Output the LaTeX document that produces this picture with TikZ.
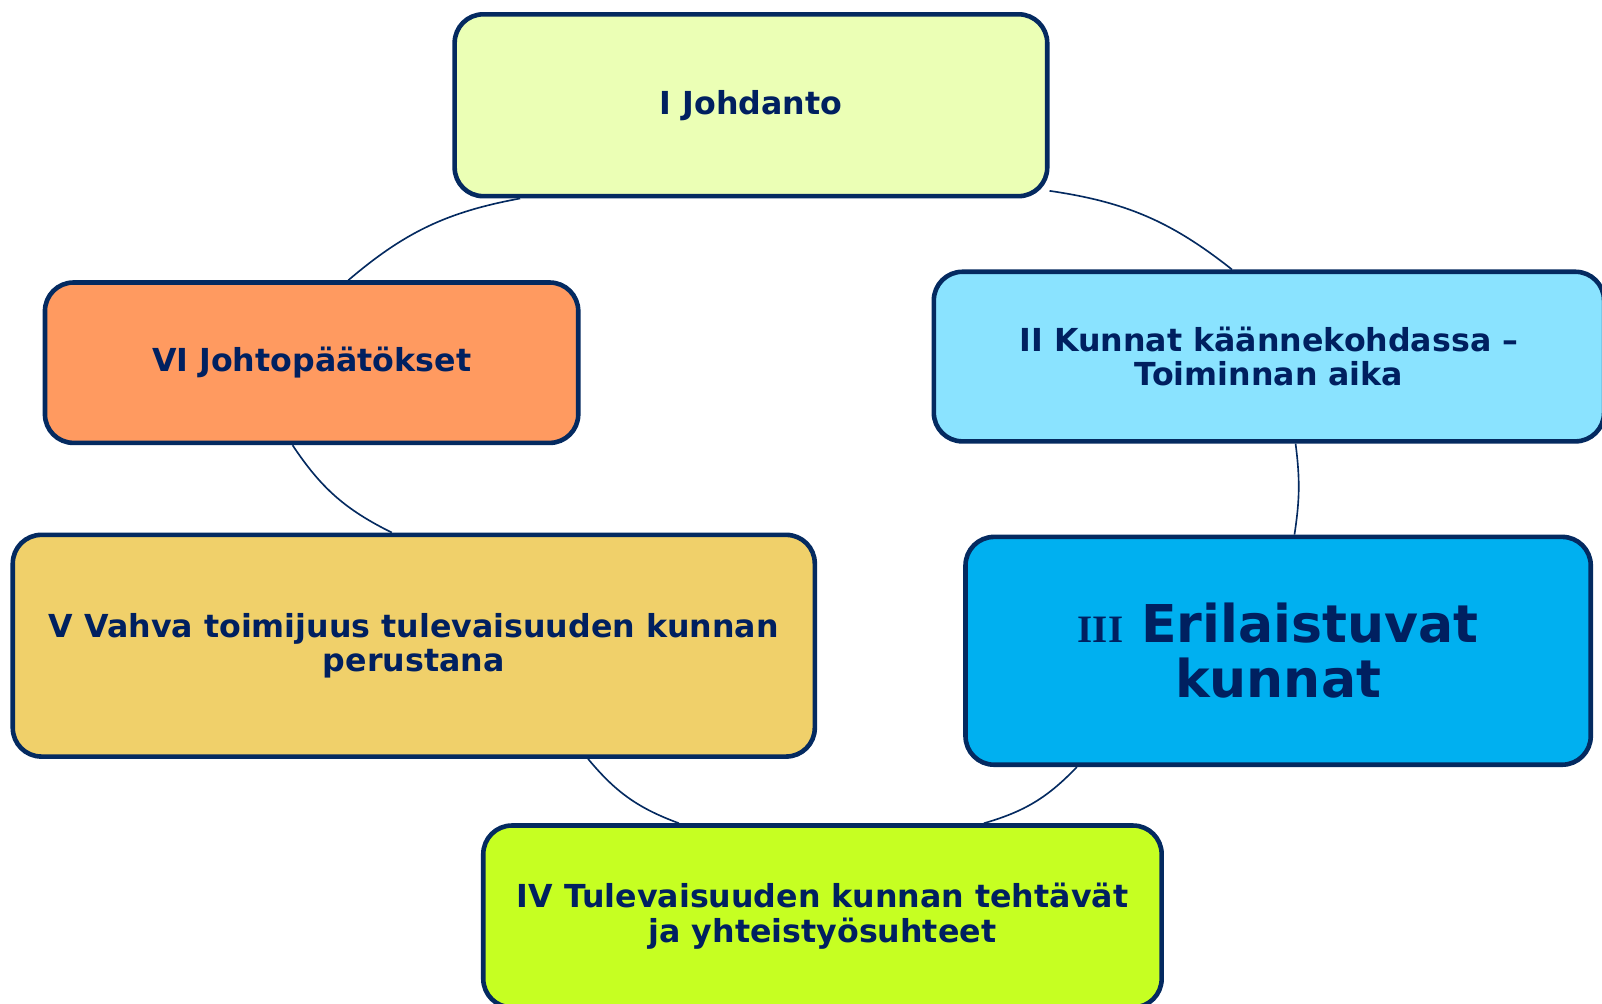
\documentclass[tikz,border=0pt]{standalone}
\usepackage{fontspec}
\setmainfont{DejaVu Sans}
\newfontfamily\romanfont{Liberation Serif}
\definecolor{navy}{RGB}{0,32,96}
\definecolor{edge}{RGB}{4,42,96}
\definecolor{introfill}{RGB}{235,255,181}
\definecolor{turnfill}{RGB}{138,227,255}
\definecolor{diversefill}{RGB}{0,176,240}
\definecolor{tasksfill}{RGB}{198,255,34}
\definecolor{strongfill}{RGB}{240,208,106}
\definecolor{conclfill}{RGB}{255,154,96}
\begin{document}
\begin{tikzpicture}[x=1pt, y=1pt,
    part/.style={draw=edge, line width=4.5pt, rounded corners=28pt, inner sep=0pt,
        align=center, text=navy, font=\bfseries\fontsize{31}{34}\selectfont},
    link/.style={draw=edge, line width=1.6pt}]
    \useasboundingbox (0,0) rectangle (1568,-982);

    \node[part, fill=introfill, minimum width=580pt, minimum height=178pt]
        (intro) at (735,-103) {I Johdanto};
    \node[part, fill=turnfill, minimum width=656pt, minimum height=166pt]
        (turn) at (1242,-349) {II Kunnat käännekohdassa –\\Toiminnan aika};
    \node[part, fill=diversefill, minimum width=612pt, minimum height=223pt,
        font=\bfseries\fontsize{51}{54}\selectfont]
        (diverse) at (1251,-637)
        {{\romanfont\bfseries\fontsize{38}{40}\selectfont III} Erilaistuvat\\kunnat};
    \node[part, fill=tasksfill, minimum width=664pt, minimum height=178pt]
        (tasks) at (805,-897) {IV Tulevaisuuden kunnan tehtävät\\ja yhteistyösuhteet};
    \node[part, fill=strongfill, minimum width=785pt, minimum height=217pt]
        (strong) at (405,-632) {V Vahva toimijuus tulevaisuuden kunnan\\perustana};
    \node[part, fill=conclfill, minimum width=522pt, minimum height=157pt]
        (concl) at (305,-355) {VI Johtopäätökset};

    \draw[link] (intro.344) to[bend left=15] (turn.113);
    \draw[link] (turn.287) to[bend left=8] (diverse.82);
    \draw[link] (diverse.210) to[bend left=15] (tasks.30);
    \draw[link] (tasks.147) to[bend left=15] (strong.-33);
    \draw[link] (strong.101) to[bend left=15] (concl.257);
    \draw[link] (concl.66) to[bend left=15] (intro.202);
\end{tikzpicture}
\end{document}
